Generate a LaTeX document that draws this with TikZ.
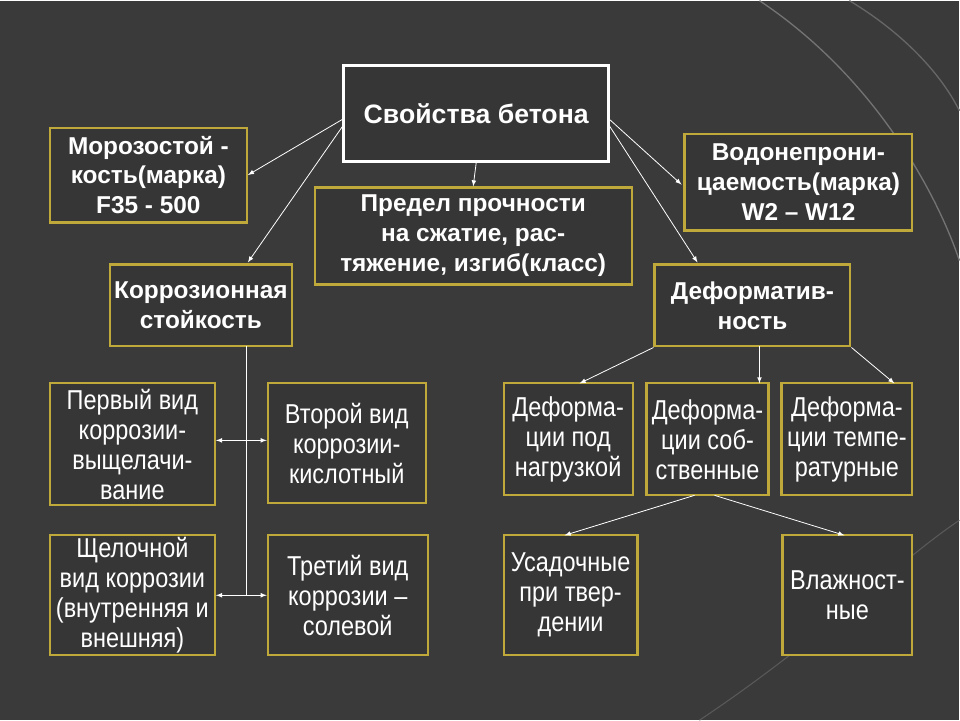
\documentclass[tikz,border=0pt]{standalone}
\usepackage{fontspec}
\setmainfont{Liberation Sans}
\newfontfamily\narrowf[FakeStretch=0.86]{Liberation Sans}
\begin{document}
\begin{tikzpicture}[x=0.75pt,y=-0.75pt,
  bx/.style={draw=gold,line width=1.6pt,fill=boxf,text=white,align=center,inner sep=0pt,font=\bfseries\fontsize{18.3}{22.5}\selectfont},
  nb/.style={bx,font=\narrowf\fontsize{20.5}{22.5}\selectfont},
  ar/.style={draw=white,line width=0.6pt,-latex},
  dar/.style={draw=white,line width=0.6pt,latex-latex}]
\definecolor{bg}{HTML}{3A3A3A}
\definecolor{boxf}{HTML}{363636}
\definecolor{gold}{HTML}{BFA93A}
\fill[bg] (0,0) rectangle (960,720);
\draw[black!55,line width=1pt] (760,0) .. controls (880,80) and (940,200) .. (960,260);
\draw[black!60,line width=1pt] (850,0) .. controls (900,30) and (940,70) .. (960,110);
\draw[gray!45!bg,line width=0.8pt] (700,720) .. controls (820,640) and (900,560) .. (960,520);
\path[use as bounding box] (0,0) rectangle (960,720);
\newcommand\bxn[6]{\node[#1,minimum width=(#4-#2)*0.75pt,minimum height=(#5-#3)*0.75pt] (#6) at ({(#2+#4)/2},{(#3+#5)/2})}
\bxn{bx,draw=white,line width=2.2pt,font=\bfseries\fontsize{20}{24}\selectfont}{344}{65}{609}{161}{main}{Свойства бетона};
\bxn{bx}{50}{127}{247}{222}{moroz}{Морозостой -\\кость(марка)\\F35 - 500};
\bxn{bx}{315}{187}{632}{284}{pred}{Предел прочности\\на сжатие, рас-\\тяжение, изгиб(класс)};
\bxn{bx}{685}{133}{913}{230}{vodo}{Водонепрони-\\цаемость(марка)\\W2 – W12};
\bxn{bx}{110}{264}{292}{346}{korr}{Коррозионная\\стойкость};
\bxn{bx}{655}{264}{851}{346}{def}{Деформатив-\\ность};
\bxn{nb}{50}{383}{215}{505}{perv}{Первый вид\\коррозии-\\выщелачи-\\вание};
\bxn{nb}{268}{383}{426}{503}{vtor}{Второй вид\\коррозии-\\кислотный};
\bxn{nb}{50}{535}{215}{655}{shch}{Щелочной\\вид коррозии\\(внутренняя и\\внешняя)};
\bxn{nb}{268}{535}{428}{655}{tret}{Третий вид\\коррозии –\\солевой};
\bxn{nb}{504}{383}{633}{495}{da}{Деформа-\\ции под\\нагрузкой};
\bxn{nb}{647}{383}{769}{495}{db}{Деформа-\\ции соб-\\ственные};
\bxn{nb}{782}{383}{913}{495}{dc}{Деформа-\\ции темпе-\\ратурные};
\bxn{nb}{504}{535}{638}{655}{usad}{Усадочные\\при твер-\\дении};
\bxn{nb}{783}{535}{913}{655}{vl}{Влажност-\\ные};
\coordinate (mL1) at (344,118); \coordinate (mL2) at (344,124);
\coordinate (mR1) at (609,118); \coordinate (mR2) at (609,124);
\draw[ar] (mL1) -- (moroz.east);
\draw[ar] (mL2) -- (248,262);
\draw[ar] (main.south) -- (pred.north);
\draw[ar] (mR1) -- (682,184);
\draw[ar] (mR2) -- (698,262);
\coordinate (kb) at (247,346); \coordinate (k1) at (247,440); \coordinate (k2) at (247,595);
\draw[white,line width=0.6pt] (kb) -- (k2);
\draw[dar] (perv.east|-k1) -- (vtor.west|-k1);
\draw[dar] (shch.east|-k2) -- (tret.west|-k2);
\draw[ar] (def.south west) -- (580,383);
\draw[ar] (760,346) -- (760,383);
\draw[ar] (def.south east) -- (895,383);
\draw[ar] (695,495) -- (565,535);
\draw[ar] (715,495) -- (845,535);
\end{tikzpicture}
\end{document}
